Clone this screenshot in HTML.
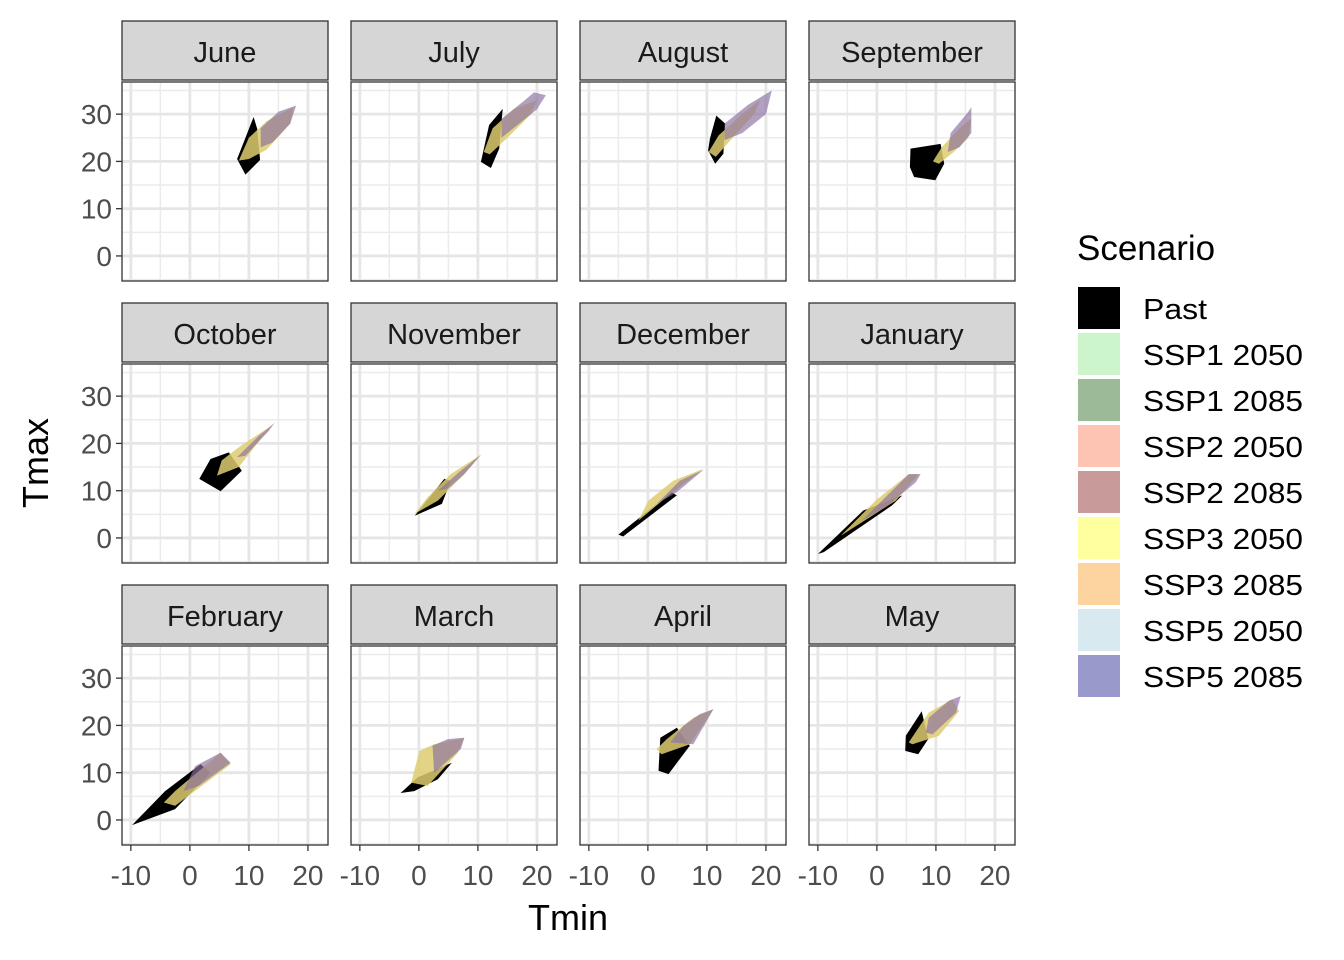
<!DOCTYPE html>
<html><head><meta charset="utf-8"><style>
body{margin:0;background:#fff}
svg{display:block;font-family:"Liberation Sans",Arial,sans-serif}
</style></head><body>
<svg id="chart" width="1344" height="960"></svg>
<script>
const months=["June","July","August","September","October","November","December","January","February","March","April","May"];
const pastPolys=[
[[10.8,29.4],[11.4,26.9],[11.9,20.3],[9.4,17.2],[8.0,20.5]],
[[14.2,31.1],[13.6,22.7],[12.2,18.6],[10.5,19.9],[11.9,27.7]],
[[11.6,29.7],[13.1,28],[12.8,21.6],[11.4,19.5],[10.2,22.3],[10.5,24.8]],
[[5.7,22.7],[10.8,23.7],[11.4,19.5],[9.9,16],[6.3,16.7],[5.6,18.8]],
[[1.6,12.5],[3.5,16.7],[6.6,18.1],[8.8,14.2],[5.2,9.9]],
[[-0.7,4.7],[4.3,12.5],[5.4,12.1],[3.9,7.2]],
[[-5,0.7],[4,9.7],[4.9,9],[-4.2,0.3]],
[[-10,-3.4],[-2.3,5.8],[4.3,9],[2.6,6.9],[-9,-3]],
[[-9.8,-1.1],[-4.2,6.1],[1.8,11.8],[3.5,10],[-2.5,2.3]],
[[-3.1,5.7],[-0.2,9],[5.6,12.1],[3.2,8.6],[-0.8,6.1]],
[[1.8,10.4],[2.1,17.4],[4.9,19.5],[7.1,15.7],[3.5,9.7]],
[[4.8,14.6],[4.9,17.8],[7.6,23],[8.7,17.1],[7,13.9]]];
const polys2050=[
[[8.3,20.2],[10,25],[13,28.5],[17.5,31.5],[17,28],[13,22.5],[10,20.5]],
[[11,22],[12.5,27],[16,31],[20,33],[19,30],[15,25],[12,21.5]],
[[10.3,22],[12,25.5],[16,30],[19,33],[18,30],[14,24.5],[11.5,21]],
[[9.5,20],[11,23],[14,27],[16,29],[15.5,25],[13,22],[10.5,19.5]],
[[4.6,13.2],[5.4,16.4],[8.3,19.2],[13.4,23.4],[14.5,24.5],[12.2,21.3],[8.3,15]],
[[-0.7,5.1],[1.5,8.6],[5.4,13.5],[10.5,17.6],[7.7,13.5],[3.2,7.9]],
[[-1.6,3.7],[0.1,7.9],[4.3,12.1],[9.4,14.6],[3.8,9.3]],
[[-6.1,0.5],[-0.2,7.9],[5.4,13.5],[7.1,13.5],[3.2,7.9]],
[[-4.4,3.7],[-2.5,6.1],[5.2,14.2],[6.9,11.8],[-2.5,3]],
[[-1.3,7.9],[0.1,14.6],[2.6,16],[7.7,17.4],[6.6,14.2],[1.5,7.2]],
[[1.5,15],[3.2,17.1],[7.7,21.6],[11.1,23.4],[7.1,16],[2.3,13.9]],
[[5.4,16.4],[8.8,22.7],[12.8,25.5],[13.9,23],[10.5,17.8],[6,16]]];
const polys2085=[
[[12,23],[12,27],[15,30.5],[18,31.8],[17,28],[14,24]],
[[14,25],[14,29],[18,33],[19.5,34.6],[21.5,34],[20,31],[16,27]],
[[13,24.5],[13,28],[17,32],[21,35],[20,30],[16,26]],
[[12,22],[12.5,26],[15.5,30.5],[16,31.5],[16,26],[14,23]],
[[8,17.1],[11.7,21.6],[14.2,24.1],[13.4,22.7],[9.4,17.4]],
[[3.2,10],[7.1,14.2],[10.5,17.6],[7.7,13.5],[4.9,10.4]],
[[1.5,7.2],[5.4,12.1],[9.4,14.4],[4.9,9.7]],
[[-2.5,3.7],[2,9.3],[5.4,13.5],[7.4,13.5],[6.6,11.8],[1.5,6.5]],
[[-1.1,6.1],[0.9,11.4],[5.2,14.2],[6.9,12.1],[1.5,7.2]],
[[2.3,15.7],[4.9,17.1],[7.7,17.4],[7.1,15],[2.6,10]],
[[3.8,16.4],[6,19.9],[8.8,22.4],[11.1,23.4],[7.7,16]],
[[8.3,18.5],[8.8,21.6],[12.2,25.2],[14.2,26.2],[13.4,22.7],[9.4,18.1]]];
const xTicks=[-10,0,10,20];
const yTicks=[0,10,20,30];
const legendLabels=["Past","SSP1 2050","SSP1 2085","SSP2 2050","SSP2 2085","SSP3 2050","SSP3 2085","SSP5 2050","SSP5 2085"];
const legendColors=["#000000","#ccf5cc","#9dba98","#fdc4b4","#c89a9a","#ffffa0","#fdd4a0","#d8eaf0","#9999cc"];

const NS="http://www.w3.org/2000/svg";
const svg=document.getElementById('chart');
function mk(t,a,p){const e=document.createElementNS(NS,t);for(const k in a)e.setAttribute(k,a[k]);(p||svg).appendChild(e);return e;}
const colX=[122,351,580,809], rowY=[82,364,646], PW=206, PH=199;
const XMIN=-11.5,XMAX=23.4,YMIN=-5.3,YMAX=36.8;
function sx(c,v){return colX[c]+(v-XMIN)/(XMAX-XMIN)*PW;}
function sy(r,v){return rowY[r]+PH-(v-YMIN)/(YMAX-YMIN)*PH;}
function pts(c,r,p){return p.map(q=>sx(c,q[0]).toFixed(1)+","+sy(r,q[1]).toFixed(1)).join(" ");}

months.forEach((m,i)=>{
  const c=i%4,r=Math.floor(i/4);
  const g=mk('g',{});
  
  
  mk('rect',{x:colX[c],y:rowY[r],width:PW,height:PH,fill:'#fff'},g);
  [-5,5,15].forEach(v=>mk('line',{x1:sx(c,v),x2:sx(c,v),y1:rowY[r],y2:rowY[r]+PH,stroke:'#ebebeb','stroke-width':1.5},g));
  [-5,5,15,25,35].forEach(v=>mk('line',{y1:sy(r,v),y2:sy(r,v),x1:colX[c],x2:colX[c]+PW,stroke:'#ebebeb','stroke-width':1.5},g));
  xTicks.forEach(v=>mk('line',{x1:sx(c,v),x2:sx(c,v),y1:rowY[r],y2:rowY[r]+PH,stroke:'#e6e6e6','stroke-width':2.8},g));
  yTicks.forEach(v=>mk('line',{y1:sy(r,v),y2:sy(r,v),x1:colX[c],x2:colX[c]+PW,stroke:'#e6e6e6','stroke-width':2.8},g));
  const pp=mk('polygon',{points:pts(c,r,pastPolys[i]),fill:'#000'},g);
  
  
  [['#6fb86f',0.5],['#ffff70',0.5],['#f0b070',0.4]].forEach(s=>{
    const p=mk('polygon',{points:pts(c,r,polys2050[i]),fill:s[0],'fill-opacity':s[1]},g);
    
    
  });
  [['#a86868',0.45],['#7878c8',0.4]].forEach(s=>{
    const p=mk('polygon',{points:pts(c,r,polys2085[i]),fill:s[0],'fill-opacity':s[1]},g);
    
    
  });
  mk('rect',{x:colX[c],y:rowY[r],width:PW,height:PH,fill:'none',stroke:'#333','stroke-width':1.3},g);
  const st=mk('rect',{x:colX[c],y:rowY[r]-61,width:PW,height:59,fill:'#d6d6d6',stroke:'#333','stroke-width':1.3},g);
  
  
  const t=mk('text',{x:colX[c]+PW/2,y:rowY[r]-20,'text-anchor':'middle','font-size':29,fill:'#1a1a1a'},g);
  t.textContent=m;
  
  
  if(c===0){yTicks.forEach(v=>{
    mk('line',{x1:colX[c]-6,x2:colX[c],y1:sy(r,v),y2:sy(r,v),stroke:'#333','stroke-width':1.3},g);
    const tl=mk('text',{x:colX[c]-10,y:sy(r,v)+10,'text-anchor':'end','font-size':28,fill:'#4d4d4d'},g);
    tl.textContent=v;
    
    
  });}
  if(r===2){xTicks.forEach(v=>{
    mk('line',{x1:sx(c,v),x2:sx(c,v),y1:rowY[r]+PH,y2:rowY[r]+PH+6,stroke:'#333','stroke-width':1.3},g);
    const tl=mk('text',{x:sx(c,v),y:rowY[r]+PH+40,'text-anchor':'middle','font-size':28,fill:'#4d4d4d'},g);
    tl.textContent=v;
    
    
  });}
});
const xt=mk('text',{x:568,y:930,'text-anchor':'middle','font-size':36,fill:'#000'});
xt.textContent='Tmin';


const yt=mk('text',{x:0,y:0,'text-anchor':'middle','font-size':36,fill:'#000',transform:'translate(48,463) rotate(-90)'});
yt.textContent='Tmax';


const lt=mk('text',{x:1077,y:260,'font-size':35,fill:'#000'});
lt.textContent='Scenario';


legendLabels.forEach((l,k)=>{
  const y=287+k*46;
  const g=mk('g',{});
  
  
  mk('rect',{x:1078,y:y,width:42,height:42,fill:legendColors[k]},g);
  const tx=mk('text',{x:1143,y:y+32,'font-size':29,fill:'#000',textLength:l.length>4?160:64,lengthAdjust:'spacingAndGlyphs'},g);
  tx.textContent=l;
});
</script>
</body></html>
